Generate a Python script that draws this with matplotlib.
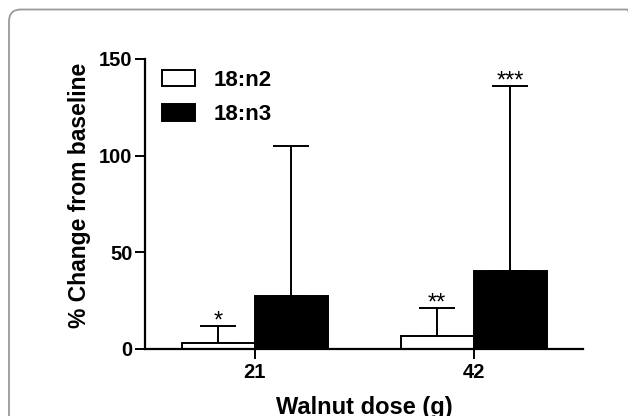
import matplotlib
matplotlib.use('Agg')
import matplotlib.pyplot as plt
from matplotlib.patches import Patch, FancyBboxPatch
from matplotlib.transforms import IdentityTransform
import numpy as np

plt.rcParams['font.family'] = 'Liberation Sans'

# Data
doses = ['21', '42']
n2_mean = [3.1, 6.9]
n2_sd = [8.8, 14.1]
n3_mean = [27.2, 40.2]
n3_sd = [77.6, 95.7]
n2_stars = ['*', '**']
n3_stars = ['', '***']

fig = plt.figure(figsize=(6.28, 4.16), dpi=100)
W, H = 628, 416

# rounded grey frame around the panel
frame = FancyBboxPatch((9, -30), 630, H - 9.5 + 30,
                       boxstyle='round,pad=0,rounding_size=12',
                       transform=IdentityTransform(), facecolor='none',
                       edgecolor='#9a9a9a', linewidth=1.3)
fig.patches.append(frame)

ax = fig.add_axes([145 / W, 1 - 349 / H, (583 - 145) / W, (349 - 59) / H])

centers = np.array([0, 3])
lw = 1.4
ax.bar(centers - 0.5, n2_mean, width=1, color='white', edgecolor='black',
       linewidth=lw, zorder=2)
ax.bar(centers + 0.5, n3_mean, width=1, color='black', edgecolor='black',
       linewidth=lw, zorder=2)

ax.errorbar(centers - 0.5, n2_mean, yerr=[np.zeros(2), n2_sd], fmt='none',
            ecolor='black', elinewidth=lw, capsize=13, capthick=lw, zorder=1)
ax.errorbar(centers + 0.5, n3_mean, yerr=[np.zeros(2), n3_sd], fmt='none',
            ecolor='black', elinewidth=lw, capsize=13, capthick=lw, zorder=1)

# significance stars above the error bars
for xs, means, sds, stars in [(centers - 0.5, n2_mean, n2_sd, n2_stars),
                              (centers + 0.5, n3_mean, n3_sd, n3_stars)]:
    for x, m, s, t in zip(xs, means, sds, stars):
        if t:
            ax.annotate(t, (x, m + s), xytext=(0, -1), textcoords='offset points',
                        ha='center', va='baseline', fontsize=17)

ax.set_xlim(-1.5, 4.5)
ax.set_ylim(0, 150)
ax.set_yticks([0, 50, 100, 150])
ax.set_xticks(centers)
ax.set_xticklabels(doses)
for s in ['top', 'right']:
    ax.spines[s].set_visible(False)
for s in ['left', 'bottom']:
    ax.spines[s].set_linewidth(1.6)
ax.tick_params(width=1.4, length=7, labelsize=14.5)
for lab in ax.get_xticklabels() + ax.get_yticklabels():
    lab.set_fontweight('bold')
ax.tick_params(axis='x', pad=3)
ax.tick_params(axis='y', pad=2)

ax.set_ylabel('% Change from baseline', fontsize=16.5, fontweight='bold', labelpad=6)
ax.yaxis.label.set_y(0.53)
ax.set_xlabel('Walnut dose (g)', fontsize=17, fontweight='bold', labelpad=10)

handles = [Patch(facecolor='white', edgecolor='black', linewidth=lw),
           Patch(facecolor='black', edgecolor='black', linewidth=lw)]
ax.legend(handles, ['18:n2', '18:n3'], loc='upper left',
          bbox_to_anchor=(162 / W, 1 - 70 / H), bbox_transform=fig.transFigure,
          frameon=False, borderpad=0, borderaxespad=0, handlelength=1.47,
          handleheight=0.75, handletextpad=0.85, labelspacing=0.6,
          prop={'size': 16, 'weight': 'bold'})

fig.savefig('out.png', dpi=100)
